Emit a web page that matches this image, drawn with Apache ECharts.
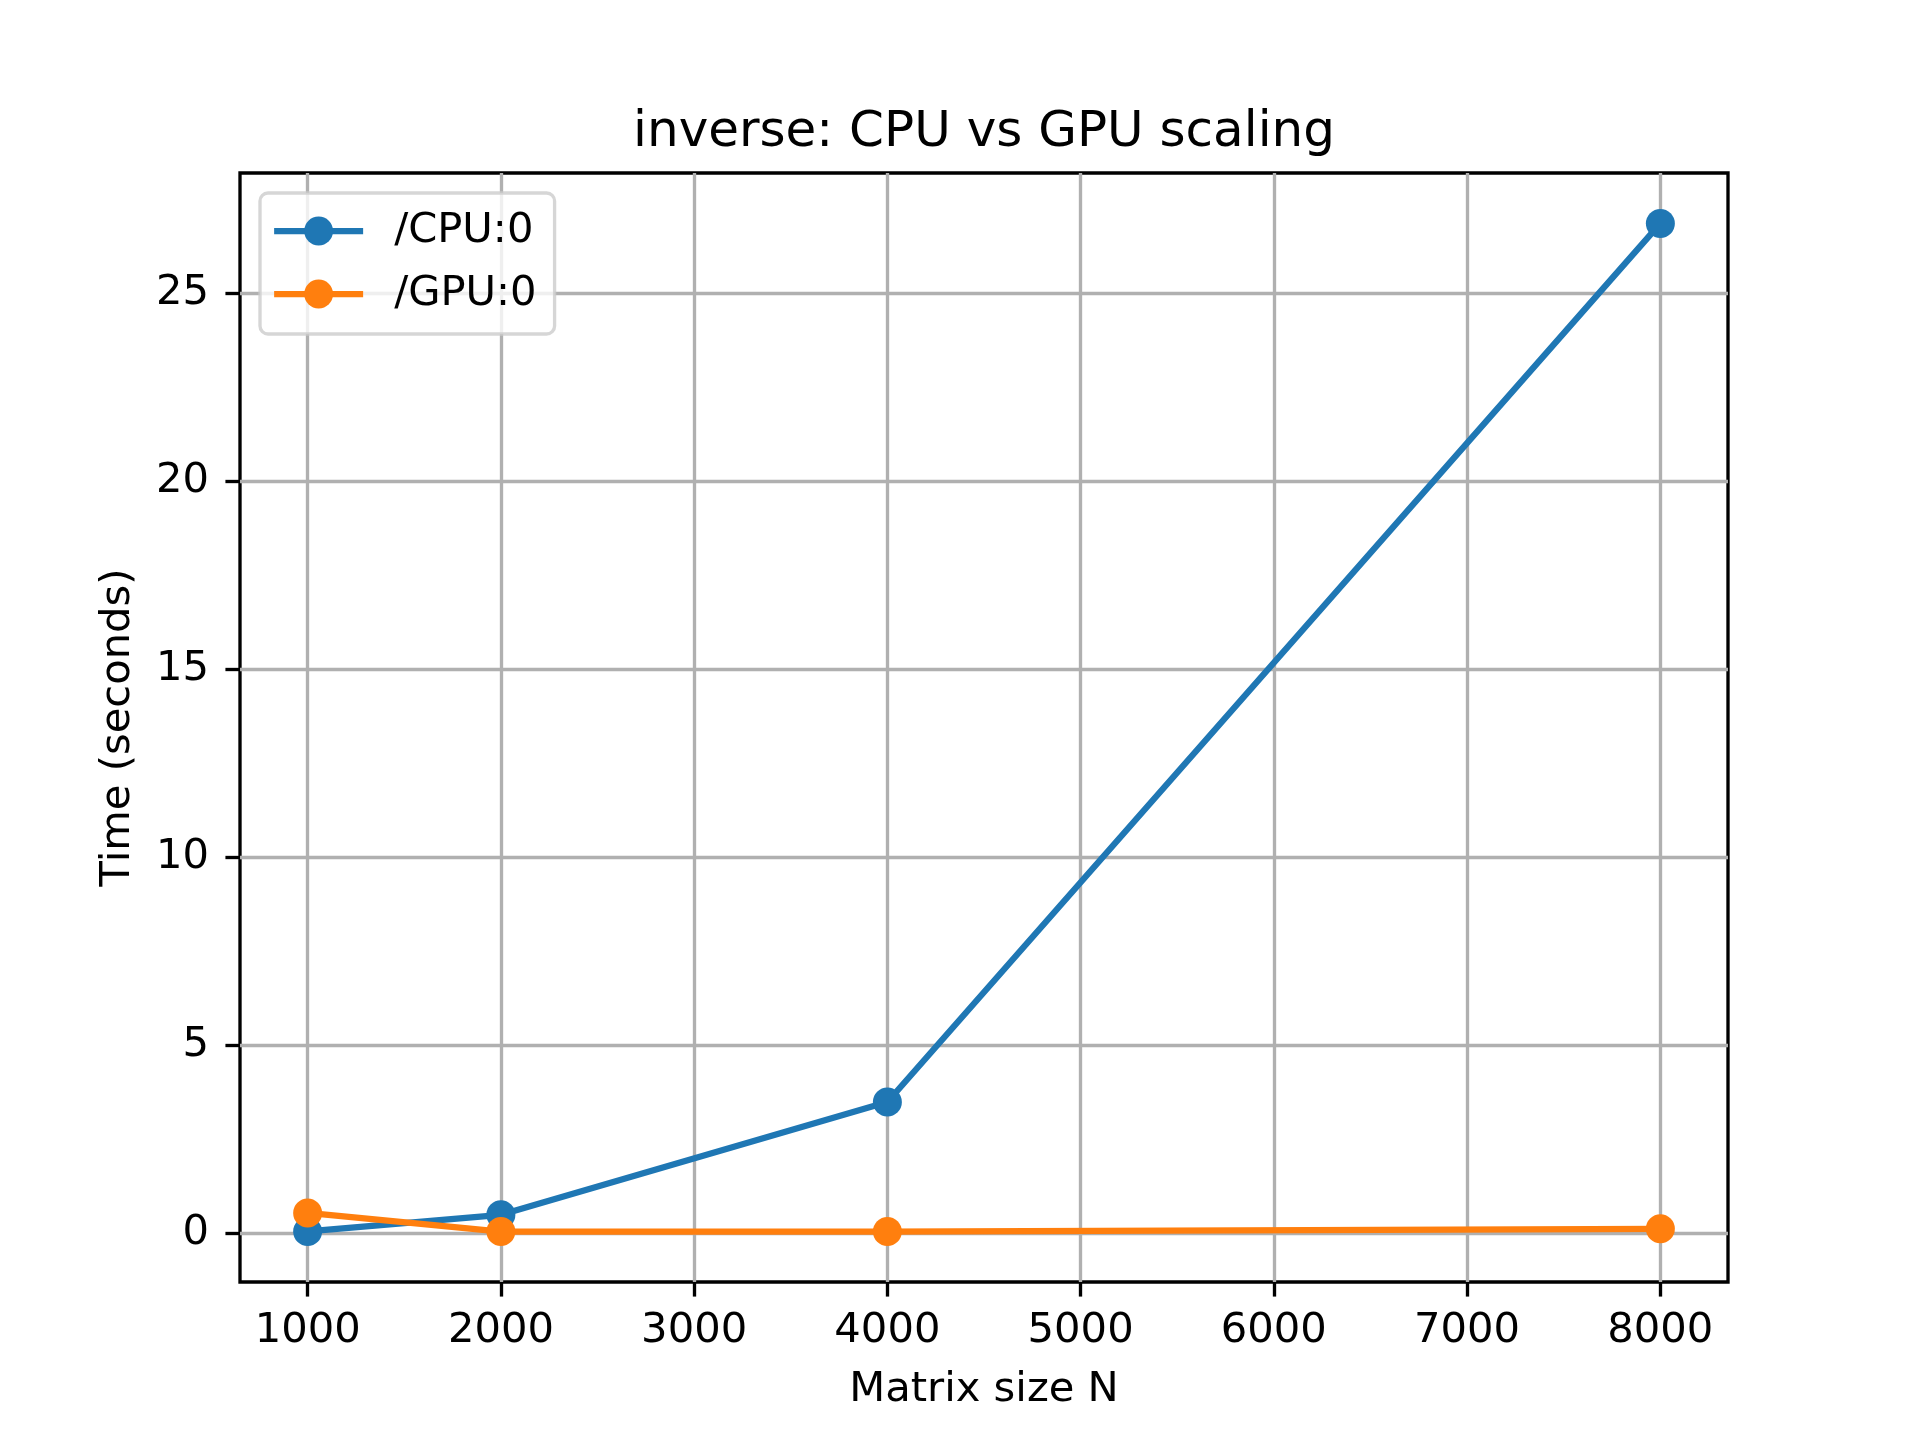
<!DOCTYPE html>
<html>
<head>
<meta charset="utf-8">
<script src="https://cdn.jsdelivr.net/npm/echarts@6/dist/echarts.min.js"></script>
<style>
  html, body { margin: 0; padding: 0; background: #fff; }
  #chart { width: 1920px; height: 1440px; }
</style>
</head>
<body>
<div id="chart"></div>
<script>
// matrix sizes and timings
var sizes   = [1000, 2000, 4000, 8000];
var cpuTime = [0.05, 0.49, 3.49, 26.86];
var gpuTime = [0.54, 0.045, 0.045, 0.12];
var xTicks  = [1000, 2000, 3000, 4000, 5000, 6000, 7000, 8000];
var yTicks  = [0, 5, 10, 15, 20, 25];

var FONT = 'DejaVu Sans';
var PT = 300 / 72;   // px per point at 300 dpi

function pairs(xs, ys) {
	var out = [];
	for (var i = 0; i < xs.length; ++i) out.push([xs[i], ys[i]]);
	return out;
}

var chart = echarts.init(document.getElementById('chart'), null, {renderer: 'canvas'});

var lineSeries = function(name, color, values) {
	return {
		name: name,
		type: 'line',
		data: pairs(sizes, values),
		symbol: 'circle',
		symbolSize: 29,
		showSymbol: true,
		lineStyle: {color: color, width: 1.5 * PT},
		itemStyle: {color: color},
		emphasis: {disabled: true},
		animation: false,
		clip: false
	};
};

var option = {
	animation: false,
	textStyle: {fontFamily: FONT},
	title: {
		text: 'inverse: CPU vs GPU scaling',
		left: 984,
		top: 108,
		padding: 0,
		textAlign: 'center',
		textStyle: {fontFamily: FONT, fontSize: 12 * PT, fontWeight: 'normal', color: '#000'}
	},
	legend: {
		left: 260,
		top: 193,
		orient: 'vertical',
		padding: [17, 18, 19, 11],
		itemGap: 21,
		itemWidth: 89,
		itemHeight: 36,
		backgroundColor: 'rgba(255,255,255,0.8)',
		borderColor: 'rgba(204,204,204,0.8)',
		borderWidth: 0.8 * PT,
		borderRadius: 8,
		lineStyle: {width: 1.5 * PT},
		textStyle: {fontFamily: FONT, fontSize: 10 * PT, color: '#000', lineHeight: 36, padding: [0, 0, 0, 26]},
		data: ['/CPU:0', '/GPU:0']
	},
	grid: {
		left: 240, right: 192, top: 173, bottom: 158,
		show: true,
		backgroundColor: 'transparent',
		borderColor: '#000',
		borderWidth: 0.8 * PT
	},
	xAxis: {
		type: 'value',
		min: 650,
		max: 8350,
		name: 'Matrix size N',
		nameLocation: 'middle',
		nameGap: 87,
		nameTextStyle: {fontFamily: FONT, fontSize: 10 * PT, color: '#000'},
		axisLine: {show: false, onZero: false},
		axisTick: {show: true, inside: false, length: 3.5 * PT, customValues: xTicks,
			lineStyle: {color: '#000', width: 0.8 * PT}},
		axisLabel: {margin: 28, customValues: xTicks, fontFamily: FONT, fontSize: 10 * PT, color: '#000',
			formatter: function(v) { return String(v); }},
		splitLine: {show: true, lineStyle: {color: '#b0b0b0', width: 0.8 * PT}}
	},
	yAxis: {
		type: 'value',
		min: -1.296,
		max: 28.2,
		name: 'Time (seconds)',
		nameLocation: 'middle',
		nameRotate: 90,
		nameGap: 101,
		nameTextStyle: {fontFamily: FONT, fontSize: 10 * PT, color: '#000'},
		axisLine: {show: false, onZero: false},
		axisTick: {show: true, inside: false, length: 3.5 * PT, customValues: yTicks,
			lineStyle: {color: '#000', width: 0.8 * PT}},
		axisLabel: {margin: 31, customValues: yTicks, fontFamily: FONT, fontSize: 10 * PT, color: '#000'},
		splitLine: {show: true, lineStyle: {color: '#b0b0b0', width: 0.8 * PT}}
	},
	series: [
		lineSeries('/CPU:0', '#1f77b4', cpuTime),
		lineSeries('/GPU:0', '#ff7f0e', gpuTime)
	]
};

chart.setOption(option);
</script>
</body>
</html>
